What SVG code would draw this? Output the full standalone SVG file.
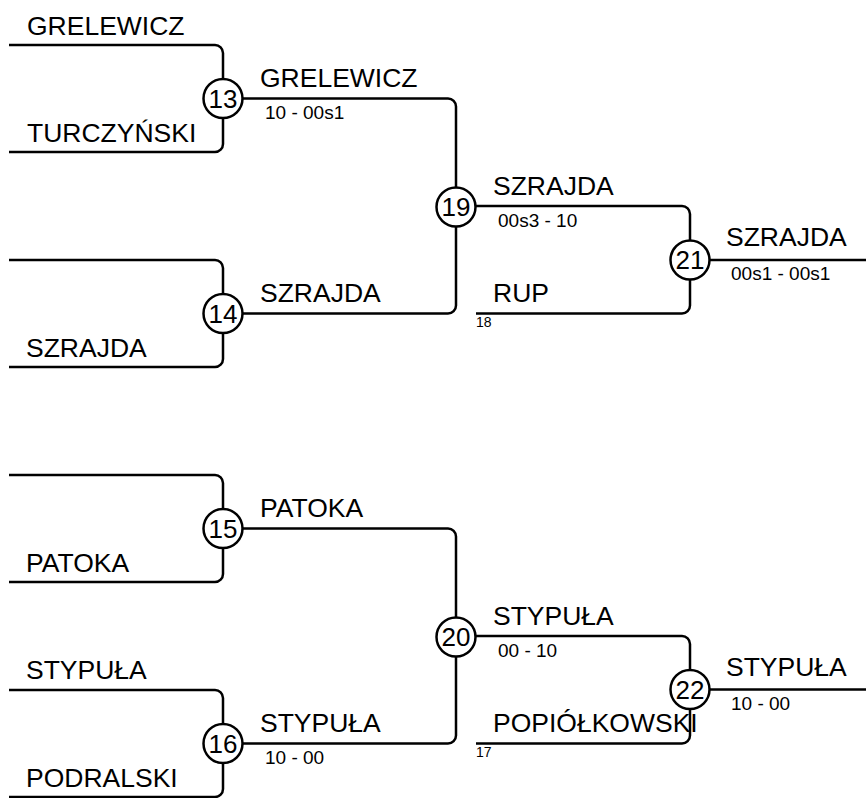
<svg xmlns="http://www.w3.org/2000/svg" width="866" height="798" viewBox="0 0 866 798">
<style>
.ln{fill:none;stroke:#000;stroke-width:2.5}
.nm{font-family:"Liberation Sans",Arial,sans-serif;font-size:26.5px;fill:#000}
.sc{font-family:"Liberation Sans",Arial,sans-serif;font-size:19px;fill:#000}
.sm{font-family:"Liberation Sans",Arial,sans-serif;font-size:14px;fill:#000}
.cn{fill:#fff;stroke:#000;stroke-width:2.5}
.cl{font-family:"Liberation Sans",Arial,sans-serif;font-size:26px;fill:#000;text-anchor:middle}
</style>
<rect width="866" height="798" fill="#fff"/>
<g id="connectors">
<path class="ln" d="M9,45 H215 a8,8 0 0 1 8,8 V144 a8,8 0 0 1 -8,8 H9"/>
<path class="ln" d="M9,260 H215 a8,8 0 0 1 8,8 V359 a8,8 0 0 1 -8,8 H9"/>
<path class="ln" d="M9,475 H215 a8,8 0 0 1 8,8 V574 a8,8 0 0 1 -8,8 H9"/>
<path class="ln" d="M9,690 H215 a8,8 0 0 1 8,8 V789 a8,8 0 0 1 -8,8 H9"/>
<path class="ln" d="M223,98.5 H448 a8,8 0 0 1 8,8 V305.5 a8,8 0 0 1 -8,8 H223"/>
<path class="ln" d="M223,528.5 H448 a8,8 0 0 1 8,8 V735.5 a8,8 0 0 1 -8,8 H223"/>
<path class="ln" d="M456,206 H682 a8,8 0 0 1 8,8 V305.5 a8,8 0 0 1 -8,8 H476"/>
<path class="ln" d="M456,636 H682 a8,8 0 0 1 8,8 V735.5 a8,8 0 0 1 -8,8 H476"/>
<path class="ln" d="M690,260 H866"/>
<path class="ln" d="M690,689.5 H866"/>
</g>
<g id="n13"><circle class="cn" cx="223" cy="98.5" r="19.5"/><text class="cl" x="223" y="107.5">13</text></g>
<g id="n14"><circle class="cn" cx="223" cy="313.5" r="19.5"/><text class="cl" x="223" y="322.5">14</text></g>
<g id="n15"><circle class="cn" cx="223" cy="528.5" r="19.5"/><text class="cl" x="223" y="537.5">15</text></g>
<g id="n16"><circle class="cn" cx="223" cy="743.5" r="19.5"/><text class="cl" x="223" y="752.5">16</text></g>
<g id="n19"><circle class="cn" cx="456" cy="207" r="19.5"/><text class="cl" x="456" y="216">19</text></g>
<g id="n20"><circle class="cn" cx="456" cy="637" r="19.5"/><text class="cl" x="456" y="646">20</text></g>
<g id="n21"><circle class="cn" cx="690" cy="260" r="19.5"/><text class="cl" x="690" y="269">21</text></g>
<g id="n22"><circle class="cn" cx="690" cy="689.5" r="19.5"/><text class="cl" x="690" y="698.5">22</text></g>
<g id="labels">
<text class="nm" x="27" y="35">GRELEWICZ</text>
<text class="nm" x="27" y="142">TURCZYŃSKI</text>
<text class="nm" x="26" y="357">SZRAJDA</text>
<text class="nm" x="26" y="572">PATOKA</text>
<text class="nm" x="26" y="679">STYPUŁA</text>
<text class="nm" x="26" y="787">PODRALSKI</text>
<text class="nm" x="260" y="87">GRELEWICZ</text>
<text class="sc" x="265" y="119">10 - 00s1</text>
<text class="nm" x="260" y="302">SZRAJDA</text>
<text class="nm" x="260" y="517">PATOKA</text>
<text class="nm" x="260" y="732">STYPUŁA</text>
<text class="sc" x="265" y="764">10 - 00</text>
<text class="nm" x="493" y="195">SZRAJDA</text>
<text class="sc" x="498" y="227">00s3 - 10</text>
<text class="nm" x="493" y="302">RUP</text>
<text class="sm" x="476" y="327">18</text>
<text class="nm" x="493" y="625">STYPUŁA</text>
<text class="sc" x="498" y="657">00 - 10</text>
<text class="nm" x="493" y="732">POPIÓŁKOWSKI</text>
<text class="sm" x="476" y="757">17</text>
<text class="nm" x="726" y="246">SZRAJDA</text>
<text class="sc" x="731" y="280">00s1 - 00s1</text>
<text class="nm" x="726" y="676">STYPUŁA</text>
<text class="sc" x="731" y="710">10 - 00</text>
</g>
</svg>
